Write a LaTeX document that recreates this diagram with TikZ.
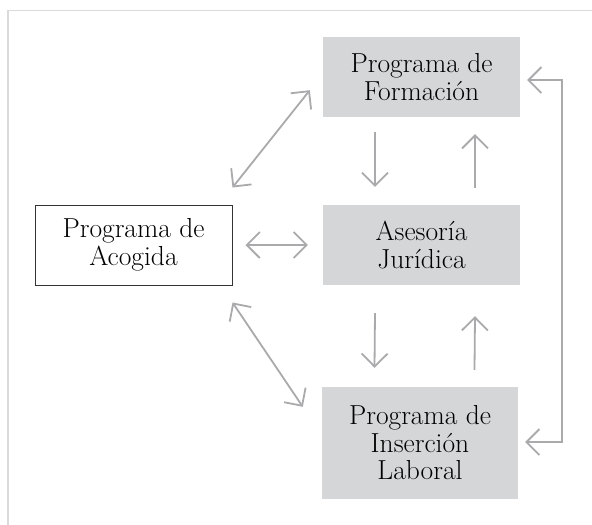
\documentclass[tikz,border=0pt]{standalone}
\usepackage{fontspec}
\usetikzlibrary{arrows.meta}
\definecolor{cajagris}{RGB}{213,214,216}
\definecolor{flechagris}{RGB}{170,170,173}
\definecolor{marcogris}{RGB}{218,218,218}
\begin{document}
\begin{tikzpicture}[x=1pt,y=-1pt,
    caja/.style={fill=cajagris,minimum width=197pt,minimum height=80pt,align=center,inner sep=0pt,
        font=\fontsize{27.5}{27.5}\selectfont},
    flecha/.style={flechagris,line width=1.8pt,{Straight Barb[length=13pt,width=26pt]}-{Straight Barb[length=13pt,width=26pt]}},
    flechauna/.style={flechagris,line width=1.8pt,-{Straight Barb[length=13pt,width=26pt]}}]
                \useasboundingbox (0,0) rectangle (592,525);
                \draw[marcogris,line width=1.4pt] (8,525) -- (8,10.5) -- (592,10.5);
                \node[caja,fill=none,draw=black!80,line width=1pt] (Acogida) at (133.5,245) {Programa de\\Acogida};
                \node[caja] (Formacion) at (421.5,77) {Programa de\\Formación};
                \node[caja] (Asesoria) at (421.5,245) {Asesoría\\Jurídica};
                \node[caja,minimum height=112pt,minimum width=196pt] (Insercion) at (420,443) {Programa de\\Inserción\\Laboral};
                \draw[flecha] ([shift={(0,-17)}]Acogida.north east) -- ([shift={(-13,-27)}]Formacion.south west);
                \draw[flecha] ([shift={(0,17)}]Acogida.south east) -- ([shift={(-19,20)}]Insercion.north west);
                \draw[flecha] ([xshift=13]Acogida.east) -- ([xshift=-15]Asesoria.west);
                \draw[flechauna] ([shift={(-46.5,15)}]Formacion.south) -- ([shift={(-46.5,-18)}]Asesoria.north);
                \draw[flechauna] ([shift={(53.5,-17)}]Asesoria.north) -- ([shift={(53.5,17)}]Formacion.south);
                \draw[flechauna] ([shift={(-46.5,28)}]Asesoria.south) -- ([shift={(-45.5,-19)}]Insercion.north);
                \draw[flechauna] ([shift={(54.5,-17)}]Insercion.north) -- ([shift={(53.5,31)}]Asesoria.south);
                \draw[flecha] ([shift={(7,3)}]Formacion.east) -| (562,260) |- ([shift={(7,-1)}]Insercion.east);
            \end{tikzpicture}
\end{document}
